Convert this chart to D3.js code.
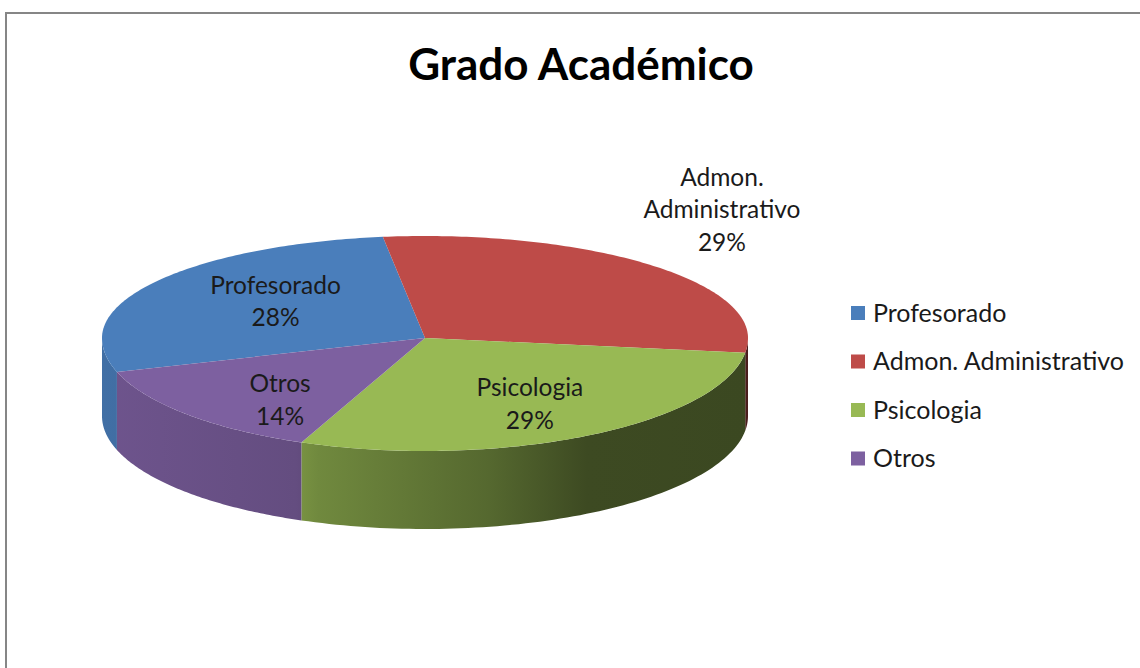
<!DOCTYPE html>
<html>
<head>
<meta charset="utf-8">
<script src="https://cdn.jsdelivr.net/npm/d3@7"></script>
<style>
  html, body { margin: 0; padding: 0; background: #fff; }
  svg { display: block; }
  text { font-family: Lato, "Open Sans", sans-serif; }
</style>
</head>
<body>
<svg id="chart" width="1140" height="668"></svg>
<script>
// ---- Data ----
const title = "Grado Académico";
const categories = ["Profesorado", "Admon. Administrativo", "Psicologia", "Otros"];
const values = [20, 21, 21, 10];
const colors = ["#4a7ebb", "#be4b48", "#98b954", "#7d60a0"];

// ---- Layout ----
const W = 1140, H = 668;
const cx = 425, cy = 338, rx = 323, ryBack = 102, ryFront = 113, depth = 78;
const startDeg = 252.5;
const outsideLabels = ["Admon. Administrativo"];
const labelNudge = [[14, 5], [0, 0], [8, -7], [-2, 5]];

const svg = d3.select("#chart");

// frame border
svg.append("path")
  .attr("d", `M6,${H} L6,13 L${W},13`)
  .attr("fill", "none").attr("stroke", "#868686").attr("stroke-width", 2);

// title
svg.append("text")
  .attr("x", 581).attr("y", 80)
  .attr("text-anchor", "middle")
  .attr("font-size", 44).attr("font-weight", "bold").attr("fill", "#000")
  .text(title);

const color = d3.scaleOrdinal().domain(categories).range(colors);
const total = d3.sum(values);
const data = categories.map((c, i) => ({ name: c, value: values[i], idx: i }));

const pie = d3.pie().sort(null).value(d => d.value)
  .startAngle(startDeg * Math.PI / 180)
  .endAngle(startDeg * Math.PI / 180 + 2 * Math.PI);
const arcs = pie(data);

function P(theta, z) {
  const c = Math.cos(theta), s = Math.sin(theta);
  const ry = c > 0 ? ryBack : ryFront;
  return [cx + rx * s, cy - ry * c + z];
}
function sample(a0, a1, n) {
  return d3.range(n + 1).map(i => a0 + (a1 - a0) * i / n);
}

// side shading gradients
const shadeStops = [[0, 0.88], [0.3, 0.8], [0.335, 0.74], [0.6, 0.56], [0.75, 0.4], [1, 0.39]];
const defs = svg.append("defs");
categories.forEach((c, i) => {
  const g = defs.append("linearGradient")
    .attr("id", "side" + i)
    .attr("gradientUnits", "userSpaceOnUse")
    .attr("x1", cx - rx).attr("x2", cx + rx).attr("y1", 0).attr("y2", 0);
  const base = d3.rgb(color(c));
  shadeStops.forEach(([t, k]) => {
    g.append("stop").attr("offset", t)
      .attr("stop-color", d3.rgb(base.r * k, base.g * k, base.b * k).formatHex());
  });
});

const line = d3.line();
const gSides = svg.append("g");
const gTops = svg.append("g");

arcs.forEach((a, i) => {
  for (let k = 0; k <= 1; k++) {
    const lo = Math.PI / 2 + k * 2 * Math.PI, hi = 3 * Math.PI / 2 + k * 2 * Math.PI;
    const a0 = Math.max(a.startAngle, lo), a1 = Math.min(a.endAngle, hi);
    if (a1 > a0) {
      const ang = sample(a0, a1, 80);
      const top = ang.map(t => P(t, 0));
      const bot = ang.slice().reverse().map(t => P(t, depth));
      gSides.append("path")
        .attr("d", line(top.concat(bot)) + "Z")
        .attr("fill", `url(#side${i})`);
    }
  }
  const ang = sample(a.startAngle, a.endAngle, 120);
  const pts = [[cx, cy]].concat(ang.map(t => P(t, 0)));
  gTops.append("path")
    .attr("d", line(pts) + "Z")
    .attr("fill", color(a.data.name));
});

// data labels
const gLabels = svg.append("g").attr("font-size", 24.5).attr("fill", "#1a1a1a").attr("text-anchor", "middle");
arcs.forEach(a => {
  const mid = (a.startAngle + a.endAngle) / 2;
  const s = Math.sin(mid), c = Math.cos(mid);
  const ry = c > 0 ? ryBack : ryFront;
  const pct = Math.round(a.data.value / total * 100) + "%";
  const [nx, ny] = labelNudge[a.data.idx];
  let x, y, lines;
  if (outsideLabels.includes(a.data.name)) {
    x = cx + rx * s * 1.3; y = cy - ry * c * 1.77;
    lines = a.data.name.split(" ").concat([pct]);
  } else {
    x = cx + rx * s * 0.6; y = cy - ry * c * 0.75;
    lines = [a.data.name, pct];
  }
  x += nx; y += ny;
  const lh = 32.5;
  const t = gLabels.append("text").attr("x", x).attr("y", y - (lines.length - 1) * lh / 2 + 8);
  lines.forEach((l, j) => t.append("tspan").attr("x", x).attr("dy", j === 0 ? 0 : lh).text(l));
});

// legend
const legend = svg.append("g").attr("transform", "translate(851,313)");
categories.forEach((c, i) => {
  const g = legend.append("g").attr("transform", `translate(0,${i * 48.5})`);
  g.append("rect").attr("x", 0).attr("y", -7).attr("width", 14).attr("height", 14).attr("fill", color(c));
  g.append("text").attr("x", 22).attr("y", 8.5).attr("font-size", 25).attr("fill", "#1a1a1a").text(c);
});
</script>
</body>
</html>
